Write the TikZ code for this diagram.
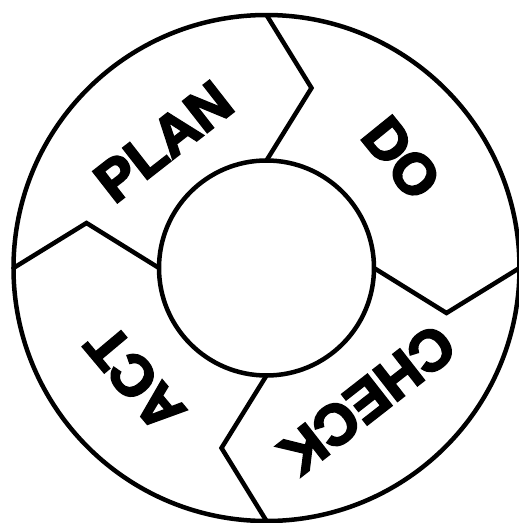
\documentclass[tikz,border=0pt]{standalone}
\usepackage{fontspec}
\newfontfamily\phasefont{Liberation Sans}[UprightFont=*-Bold, FakeBold=4]
\usetikzlibrary{positioning}

\begin{document}
\begin{tikzpicture}[
    x=1pt, y=1pt,
    ring/.style={
        circle,
        draw=black,
        line width=4.5pt,
        inner sep=0pt,
        outer sep=0pt
    },
    divider/.style={line width=4.5pt, line join=miter},
    phase/.style={font=\phasefont\fontsize{57}{57}\selectfont, inner sep=0pt}
]

    \useasboundingbox (-266.5,-255) rectangle (252.5,268);

    \node (rim) [ring, minimum size=506pt] at (0,0) {};
    \node (hub) [ring, minimum size=215pt] at (0,0) {};

    % kinks of the four dividers
    \coordinate (kinkTop) at (45,180);
    \coordinate (kinkRight) at (180,-45);
    \coordinate (kinkBottom) at (-45,-180);
    \coordinate (kinkLeft) at (-180,45);

    \draw [divider] (hub.north) -- (kinkTop) -- (rim.north);
    \draw [divider] (hub.east) -- (kinkRight) -- (rim.east);
    \draw [divider] (hub.south) -- (kinkBottom) -- (rim.south);
    \draw [divider] (hub.west) -- (kinkLeft) -- (rim.west);

    \node (plan) [phase, rotate=38] at (-103,126.5) {PLAN};
    \node (do) [phase, rotate=-51] at (135,110) {DO};
    \node (check) [phase, rotate=-142] at (101,-131.5) {CHECK};
    \node (act) [phase, rotate=130] at (-131.5,-110.5) {ACT};

\end{tikzpicture}
\end{document}
